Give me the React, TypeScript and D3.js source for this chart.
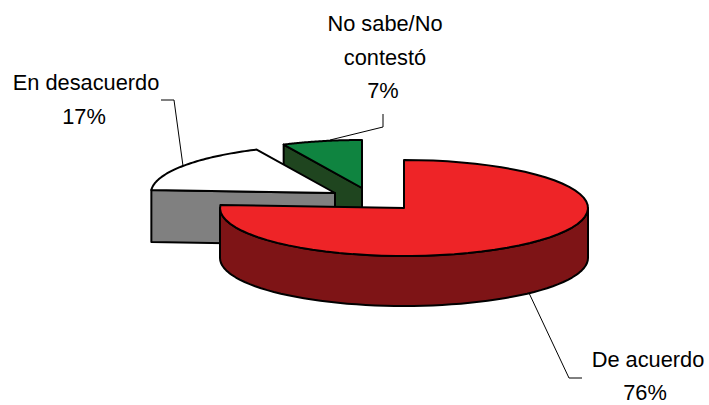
import React from 'react';
import * as d3 from 'd3';

// data
const categories = ['De acuerdo', 'En desacuerdo', 'No sabe/No contestó'];
const shares = [76, 17, 7];
const topColours = ['#ee2427', '#ffffff', '#0f8440'];
const wallColours = ['#7e1416', '#808080', '#1f451f'];

// constants
const width = 709;
const height = 405;
const rx = 184;
const ry = 48;
const depth = 50;
// each slice is pulled out of the pie, so each has its own apex
const apexes = [[404, 208], [335, 193], [362, 188]];

const arcs = d3.pie<number>().sort(null)(shares);

// flatten a pie angle onto the tilted ellipse
const project = (apex: number[], a: number, dy = 0): [number, number] => [
  apex[0] + rx * Math.sin(a),
  apex[1] - ry * Math.cos(a) + dy,
];

const rimPoints = (apex: number[], a0: number, a1: number, dy = 0) =>
  d3.range(0, 61).map(i => project(apex, d3.interpolateNumber(a0, a1)(i / 60), dy));

const line = d3.line();

const topPath = (i: number) => {
  const apex = apexes[i];
  return line([apex as [number, number], ...rimPoints(apex, arcs[i].startAngle, arcs[i].endAngle)]) + 'Z';
};

// outer wall, only the part of the rim that faces the viewer
const rimWallPath = (i: number) => {
  const apex = apexes[i];
  const a0 = Math.max(arcs[i].startAngle, Math.PI / 2);
  const a1 = Math.min(arcs[i].endAngle, (Math.PI * 3) / 2);
  const upper = rimPoints(apex, a0, a1);
  const lower = rimPoints(apex, a0, a1, depth).reverse();
  return line([...upper, ...lower]) + 'Z';
};

// flat wall of the cut, from the apex out to the rim at angle a
const cutWallPath = (i: number, a: number, h = depth) => {
  const apex = apexes[i];
  const p = project(apex, a);
  return line([
    apex as [number, number],
    p,
    [p[0], p[1] + h],
    [apex[0], apex[1] + h],
  ]) + 'Z';
};

const leaders = [
  [[529, 293], [569, 378], [582, 378]],
  [[183, 166], [174, 100], [161, 100]],
  [[330, 140], [383, 127], [383, 114]],
] as [number, number][][];

const labels = [
  { lines: [{ x: 648, y: 367, t: categories[0] }, { x: 645, y: 400, t: `${shares[0]}%` }] },
  { lines: [{ x: 86, y: 90, t: categories[1] }, { x: 84, y: 124, t: `${shares[1]}%` }] },
  { lines: [{ x: 385, y: 31, t: 'No sabe/No' }, { x: 385, y: 65, t: 'contestó' }, { x: 383, y: 98, t: `${shares[2]}%` }] },
];

const edge = { stroke: '#000', strokeWidth: 2, strokeLinejoin: 'round' as const };

export default function App() {
  return (
    <svg width={width} height={height} style={{ position: 'absolute', left: 0, top: 0, background: '#fff' }}>
      {/* green, then white, then red on top */}
      <path d={cutWallPath(2, arcs[2].startAngle)} fill={wallColours[2]} {...edge} />
      <path d={topPath(2)} fill={topColours[2]} {...edge} />
      <path d={cutWallPath(1, arcs[1].startAngle, 52)} fill={wallColours[1]} {...edge} />
      <path d={topPath(1)} fill={topColours[1]} {...edge} />
      <path d={rimWallPath(0)} fill={wallColours[0]} {...edge} />
      <path d={topPath(0)} fill={topColours[0]} {...edge} />

      {leaders.map((l, i) => (
        <path key={i} d={line(l) as string} fill="none" stroke="#000" strokeWidth={1} />
      ))}
      {labels.map((l, i) => (
        <text key={i} textAnchor="middle" fontFamily="'Liberation Sans', Arial, sans-serif" fontSize={21.8} fill="#000">
          {l.lines.map((t, j) => (
            <tspan key={j} x={t.x} y={t.y}>{t.t}</tspan>
          ))}
        </text>
      ))}
    </svg>
  );
}
